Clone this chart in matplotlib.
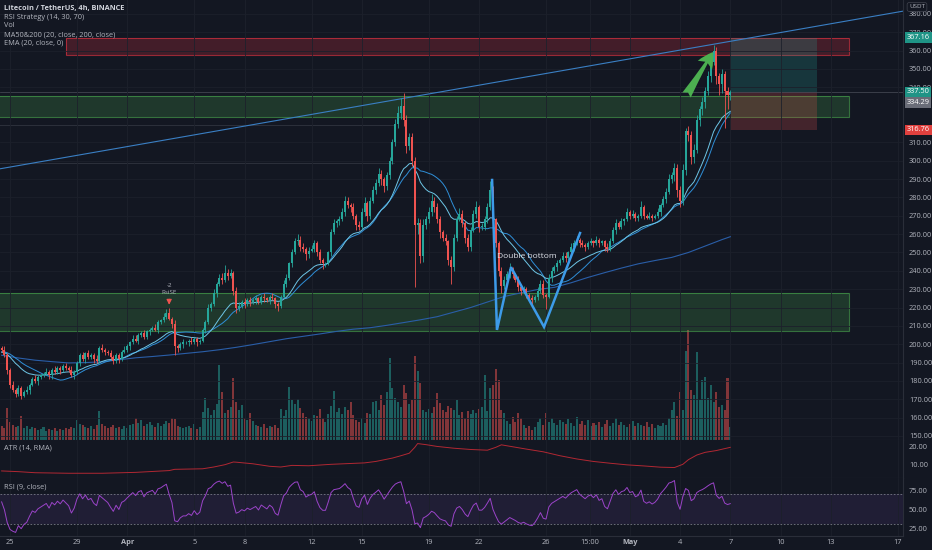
import matplotlib
matplotlib.use("Agg")
import matplotlib.pyplot as plt
import matplotlib.transforms as mtransforms
from matplotlib.patches import Rectangle
import numpy as np
import pandas as pd

plt.rcParams['font.family'] = ['Open Sans', 'DejaVu Sans']

BG = '#131722'
TXT = '#b2b5be'
SEP = '#2a2e39'
UP = '#26a69a'
DN = '#ef5350'

# LTC/USDT 4h candles, day 0 = Mar 25 00:00, first visible candle Mar 24 12:00
first_day = -0.5
warmup = [192, 194, 196, 193, 195, 197, 196, 198, 195, 193,
          194, 196, 195, 197, 199, 198, 196, 194, 196, 198]
closes = [
    197, 194, 186, 178, 175, 173,
    176, 172, 174, 175, 178, 181,
    180, 182, 183, 184, 185, 183,
    186, 185, 187, 186, 188, 187,
    186, 183, 185, 190, 194, 192,
    195, 193, 194, 192, 191, 198,
    197, 196, 195, 193, 191, 194,
    192, 196, 197, 199, 201, 203,
    202, 205, 206, 204, 207, 208,
    209, 208, 212, 213, 215, 217,
    214, 211, 199, 198, 200, 201,
    201, 202, 201, 203, 201, 202,
    208, 212, 220, 222, 228, 233,
    236, 235, 239, 237, 239, 229,
    220, 221, 223, 222, 224, 223,
    224, 225, 223, 226, 225, 224,
    226, 225, 222, 221, 226, 233,
    236, 244, 250, 256, 257, 253,
    252, 249, 251, 252, 255, 250,
    246, 244, 244, 250, 261, 266,
    267, 268, 272, 278, 276, 275,
    270, 265, 264, 272, 277, 270,
    278, 284, 288, 293, 290, 286,
    292, 300, 310, 320, 326, 330,
    322, 308, 313, 300, 265, 266,
    248, 265, 268, 272, 278, 275,
    268, 261, 258, 256, 246, 242,
    258, 268, 271, 266, 258, 253,
    262, 271, 275, 264, 264, 268,
    275, 284, 268, 255, 240, 232,
    235, 238, 241, 238, 235, 231,
    229, 230, 227, 225, 224, 226,
    229, 233, 227, 226, 236, 240,
    242, 244, 246, 248, 247, 250,
    253, 255, 257, 255, 254, 253,
    255, 256, 255, 257, 255, 256,
    253, 252, 256, 262, 266, 264,
    267, 268, 272, 270, 271, 269,
    270, 275, 270, 269, 270, 269,
    270, 272, 276, 279, 283, 290,
    292, 296, 284, 278, 295, 316,
    314, 302, 306, 322, 328, 332,
    338, 346, 354, 360, 346, 342,
    347, 338, 336, 337.5,
]
wick_up = [
    1, 2, 1, 1, 2, 1,  2, 1, 1, 2, 1, 1,  2, 1, 1, 1, 2, 1,  1, 2, 1, 1, 1, 2,
    1, 2, 1, 1, 1, 2,  1, 2, 1, 1, 2, 1,  2, 1, 1, 2, 1, 1,  1, 1, 2, 1, 1, 2,
    2, 1, 1, 2, 1, 1,  1, 2, 1, 1, 2, 2,  3, 1, 2, 1, 1, 2,  1, 1, 2, 1, 1, 1,
    1, 1, 2, 1, 2, 1,  2, 3, 4, 2, 2, 1,  2, 2, 1, 2, 1, 2,  1, 2, 1, 1, 2, 1,
    1, 2, 1, 1, 1, 2,  2, 1, 2, 2, 3, 2,  2, 1, 2, 2, 2, 1,  2, 1, 1, 1, 2, 2,
    1, 2, 2, 3, 2, 1,  2, 1, 2, 2, 3, 1,  2, 2, 2, 3, 2, 1,  2, 2, 2, 3, 4, 4,
    7, 3, 2, 2, 2, 3,  2, 3, 2, 3, 4, 2,  2, 2, 1, 2, 1, 2,  2, 2, 3, 2, 1, 2,
    2, 2, 3, 1, 2, 2,  2, 5, 2, 1, 1, 2,  2, 2, 3, 1, 1, 2,  1, 2, 1, 1, 2, 1,
    2, 2, 2, 1, 2, 2,  1, 2, 1, 2, 2, 1,  2, 2, 2, 1, 2, 1,  1, 2, 1, 2, 1, 1,
    1, 2, 2, 2, 2, 1,  2, 1, 2, 1, 2, 1,  1, 3, 1, 1, 2, 1,  1, 2, 1, 2, 2, 3,
    2, 3, 2, 2, 3, 2,  3, 2, 3, 3, 2, 3,  2, 3, 3, 3, 2, 2,  3, 2, 2, 1,
]
wick_dn = [
    1, 1, 2, 2, 1, 2,  1, 2, 1, 1, 2, 1,  1, 2, 1, 1, 1, 2,  2, 1, 1, 2, 1, 1,
    1, 1, 2, 1, 2, 1,  2, 1, 1, 2, 1, 1,  1, 2, 1, 1, 2, 1,  2, 1, 1, 1, 2, 1,
    1, 2, 1, 1, 1, 2,  1, 1, 2, 1, 1, 1,  1, 2, 5, 2, 1, 2,  1, 2, 1, 1, 2, 1,
    1, 2, 1, 2, 1, 2,  1, 2, 1, 2, 1, 2,  3, 2, 1, 2, 1, 2,  1, 2, 1, 1, 2, 1,
    2, 1, 2, 3, 1, 1,  2, 1, 2, 1, 2, 2,  2, 3, 2, 1, 2, 2,  2, 3, 2, 1, 2, 1,
    2, 2, 1, 2, 2, 3,  2, 3, 2, 1, 2, 3,  2, 1, 2, 2, 3, 3,  2, 2, 2, 2, 2, 3,
    3, 4, 2, 3, 34, 5, 4, 3, 2, 2, 2, 3,  2, 3, 2, 2, 3, 9,  2, 2, 1, 2, 3, 2,
    2, 1, 2, 3, 2, 2,  2, 2, 3, 2, 3, 4,  2, 1, 2, 2, 1, 2,  2, 1, 2, 1, 2, 1,
    2, 1, 2, 7, 1, 2,  1, 2, 1, 1, 2, 1,  1, 2, 1, 2, 1, 2,  1, 1, 2, 1, 2, 1,
    2, 2, 1, 1, 2, 1,  1, 2, 1, 2, 1, 2,  2, 1, 2, 1, 1, 2,  1, 1, 2, 1, 2, 1,
    2, 3, 4, 3, 2, 3,  3, 4, 3, 2, 3, 3,  3, 2, 3, 2, 4, 6,  5, 20, 8, 3,
]
volumes = [
    14, 12, 32, 18, 15, 13,  14, 24, 12, 14, 11, 13,  12, 10, 11, 13, 9, 11,
    10, 12, 9, 11, 10, 12,  11, 13, 12, 20, 16, 15,  13, 12, 14, 11, 15, 29,
    16, 14, 12, 13, 15, 12,  13, 11, 14, 12, 15, 16,  22, 17, 20, 14, 16, 18,
    15, 13, 17, 14, 16, 19,  17, 22, 21, 14, 13, 12,  13, 14, 12, 16, 11, 13,
    28, 42, 32, 25, 30, 36,  75, 48, 27, 30, 33, 62,  38, 30, 35, 22, 20, 27,
    19, 15, 14, 13, 16, 12,  14, 13, 15, 12, 31, 24,  30, 53, 40, 36, 41, 32,
    27, 23, 22, 19, 25, 24,  31, 22, 18, 26, 34, 49,  28, 32, 26, 33, 30, 38,
    25, 20, 18, 22, 17, 27,  26, 38, 39, 30, 45, 35,  48, 82, 52, 42, 38, 33,
    55, 47, 36, 40, 84, 69,  57, 30, 28, 31, 27, 33,  47, 37, 30, 28, 34, 32,
    30, 40, 25, 28, 22, 29,  26, 30, 27, 31, 33, 65,  29, 52, 55, 71, 60, 30,
    27, 19, 16, 23, 18, 27,  22, 15, 12, 14, 10, 13,  18, 22, 15, 27, 18, 22,
    17, 15, 20, 18, 16, 21,  17, 14, 23, 16, 19, 15,  20, 14, 17, 15, 18, 13,
    16, 20, 14, 17, 22, 15,  18, 15, 13, 16, 19, 14,  17, 15, 14, 18, 13, 16,
    12, 15, 14, 17, 15, 22,  30, 38, 24, 48, 30, 89,  110, 50, 45, 88, 40, 60,
    63, 42, 55, 38, 48, 33,  35, 30, 62, 13,
]
ma200_idx = list(range(0, 262, 6)) + [261]
ma200 = [194, 192.5, 191.3, 190.5, 189.8, 190, 190.4, 191.5, 192.6, 193.3,
         194.1, 195, 195.9, 197, 198.3, 199.8, 201.4, 203, 204.3, 205.6,
         207, 208.2, 209, 210.3, 211.8, 213.3, 215, 217.5, 220, 223,
         226, 228, 229.8, 231, 233.5, 236.4, 239, 241.5, 243.8, 245.6,
         247.3, 250, 253.5, 257, 258.6]
atr_idx = [0, 6, 12, 24, 36, 48, 60, 62, 72, 76, 80, 83, 84, 90, 96, 100, 104,
           110, 118, 124, 130, 134, 140, 143, 146, 148, 149, 152, 156, 162, 168,
           174, 177, 179, 182, 188, 194, 200, 206, 212, 218, 224, 230, 236, 241,
           244, 246, 249, 252, 256, 261]
atr = [6.3, 5.9, 5.3, 5.0, 5.0, 5.5, 6.5, 7.2, 7.5, 8.5, 9.8, 11.3, 11.2, 10.3,
       8.9, 8.5, 9.4, 9.2, 10.0, 10.4, 10.8, 11.6, 13.5, 14.8, 16.2, 19.5, 21.6,
       21.0, 20.0, 19.0, 18.3, 17.9, 19.5, 20.9, 20.1, 18.5, 17.0, 14.8, 13.0,
       11.6, 10.6, 9.7, 9.1, 8.4, 8.2, 10.0, 12.6, 15.2, 16.7, 17.7, 19.5]

# drawings
zone_start = [3.34, -1, -1]
zone_end = [50.09, 50.09, 50.09]
zone_low = [357.7, 323.8, 207.4]
zone_high = [366.8, 335.3, 227.8]
zone_kind = ['supply', 'demand', 'demand']
trend_days = [-0.6, 53.3]
trend_prices = [295.6, 381.5]
level_prices = [319.5, 299.0]
level_end = 22.9
w_days = [28.78, 29.07, 29.91, 31.88, 34.03]
w_prices = [289.5, 207.8, 242.0, 209.4, 260.6]
arrow_days = [40.3, 42.05]
arrow_prices = [334.5, 360.5]
pos_end = 48.18
pos_entry, pos_target, pos_stop, last_price = 337.50, 367.16, 316.76, 334.29
signal_idx = 60

price_ticks = [150, 160, 170, 180, 190, 200, 210, 220, 230, 240, 250, 260, 270,
               280, 290, 300, 310, 340, 350, 360, 370, 380]
tick_days = [0, 4, 7, 11, 14, 18, 21, 25, 28, 32, 34.625, 37, 40, 43, 46, 49, 53]
tick_labels = ['25', '29', 'Apr', '5', '8', '12', '15', '19', '22', '26', '15:00',
               'May', '4', '7', '10', '13', '17']

n = len(closes)
t = first_day + np.arange(n) / 6
c = np.array(closes, dtype=float)
o = np.concatenate([[warmup[-1]], c[:-1]])
hi = np.maximum(o, c) + np.array(wick_up[:n])
lo = np.minimum(o, c) - np.array(wick_dn[:n])
col = np.where(c >= o, UP, DN)

allc = pd.Series(warmup + closes, dtype=float)
ma20 = allc.rolling(20).mean().to_numpy()[-n:]
ema20 = allc.ewm(span=20, adjust=False).mean().to_numpy()[-n:]
d = allc.diff()
gain = d.clip(lower=0).ewm(alpha=1 / 9, adjust=False).mean()
loss = (-d.clip(upper=0)).ewm(alpha=1 / 9, adjust=False).mean()
rsi = (100 - 100 / (1 + gain / loss)).to_numpy()[-n:]

W, H = 932, 550
fig = plt.figure(figsize=(W / 100, H / 100), dpi=100, facecolor=BG)


def rect(top, bottom):
    return [0, 1 - bottom / H, 903 / W, (bottom - top) / H]


ax_vol = fig.add_axes(rect(0, 440))
ax = fig.add_axes(rect(0, 440), sharex=ax_vol)
ax_atr = fig.add_axes(rect(440, 478), sharex=ax_vol)
ax_rsi = fig.add_axes(rect(478, 536), sharex=ax_vol)

ax_vol.set_facecolor(BG)
ax_vol.set_ylim(0, 440)
ax_vol.bar(t, volumes[:n], width=0.12, color=col, alpha=0.5, lw=0)
ax_vol.tick_params(length=0, labelbottom=False, labelleft=False)
ax_vol.set_yticks([])
ax_vol.grid(axis='x', color='#1c202b', lw=0.6)

for a in (ax_vol, ax, ax_atr, ax_rsi):
    for s in a.spines.values():
        s.set_visible(False)
for a in (ax, ax_atr, ax_rsi):
    a.set_facecolor(BG)
    a.spines['right'].set_visible(True)
    a.spines['right'].set_color(SEP)
    a.spines['bottom'].set_visible(True)
    a.spines['bottom'].set_color(SEP)
    a.yaxis.tick_right()
    a.tick_params(axis='y', colors=TXT, labelsize=5.3, length=0, pad=4.3)
    a.tick_params(axis='x', length=0, labelbottom=False)
ax.patch.set_visible(False)

# main pane
ax.set_ylim(147.8, 387.6)
ax.set_yticks(price_ticks)
ax.yaxis.set_major_formatter(lambda v, p: f'{v:.2f}')
ax.grid(axis='y', color='#1c202b', lw=0.6)

for x0, x1, lo_, hi_, kind in zip(zone_start, zone_end, zone_low, zone_high, zone_kind):
    fc = '#f23645' if kind == 'supply' else '#4caf50'
    ax.add_patch(Rectangle((x0, lo_), x1 - x0, hi_ - lo_, facecolor=fc, alpha=0.22,
                           edgecolor='none', zorder=1))
    ax.add_patch(Rectangle((x0, lo_), x1 - x0, hi_ - lo_, facecolor='none',
                           edgecolor=fc, alpha=0.6, lw=0.8, zorder=1))

ax.add_patch(Rectangle((t[-1], pos_entry), pos_end - t[-1], pos_target - pos_entry,
                       facecolor=UP, alpha=0.22, lw=0, zorder=1))
ax.add_patch(Rectangle((t[-1], pos_stop), pos_end - t[-1], pos_entry - pos_stop,
                       facecolor=DN, alpha=0.22, lw=0, zorder=1))

for lv in level_prices:
    ax.plot([-1, level_end], [lv, lv], color='#363a45', lw=0.5, zorder=1)
ax.axhline(pos_entry, color='#4a4e5a', lw=0.5, zorder=1)

ax.plot(trend_days, trend_prices, color='#3a7fc4', lw=0.8, zorder=2)
ax.plot(t[ma200_idx], ma200, color='#2a5ea8', lw=0.8, zorder=2)
ax.plot(t, ma20, color='#2f8fd8', lw=0.7, zorder=2)
ax.plot(t, ema20, color='#6ec6e6', lw=0.7, zorder=2)

ax.vlines(t, lo, hi, colors=col, lw=0.6, zorder=3)
ax.bar(t, np.maximum(np.abs(c - o), 0.4), bottom=np.minimum(o, c), width=0.12,
       color=col, lw=0, zorder=4)

ax.plot(w_days, w_prices, color='#3d9be9', lw=1.8, zorder=5, solid_joinstyle='miter')
ax.annotate('Double bottom', (w_days[1], w_prices[2]), xytext=(0, 8),
            textcoords='offset points', color='#e0e3eb', fontsize=6, va='center',
            ha='left', zorder=6)

ax.annotate('', xy=(arrow_days[1], arrow_prices[1]), xytext=(arrow_days[0], arrow_prices[0]),
            arrowprops=dict(arrowstyle='fancy,head_length=1.1,head_width=1.2,tail_width=0.7',
                            color='#4caf50', lw=0), zorder=6)

sx, sy = t[signal_idx], hi[signal_idx]
ax.annotate('', xy=(sx, sy), xytext=(0, 8), textcoords='offset points',
            xycoords='data', arrowprops=dict(arrowstyle='-|>,head_length=0.3,head_width=0.15',
                                             color=DN, lw=0.8), zorder=6)
ax.annotate('RsiSE', (sx, sy), xytext=(0, 10.5), textcoords='offset points',
            color=TXT, fontsize=4.5, ha='center', va='center', zorder=6)
ax.annotate('-2', (sx, sy), xytext=(0, 15.5), textcoords='offset points',
            color=TXT, fontsize=4.5, ha='center', va='center', zorder=6)

blend = mtransforms.blended_transform_factory(ax.transAxes, ax.transData)
for val, fc, dy in [(pos_target, '#1f9486', 0), (pos_entry, '#1f9486', 0),
                    (last_price, '#6a6d78', -2.5), (pos_stop, '#e0403e', 0)]:
    ax.text(1.004, val + dy, f'{val:.2f}', transform=blend, color='white', fontsize=5.3,
            va='center', ha='left', clip_on=False, zorder=10,
            bbox=dict(boxstyle='square,pad=0.25', fc=fc, ec='none'))

# ATR pane
ax_atr.set_ylim(2.35, 23.6)
ax_atr.set_yticks([10, 20])
ax_atr.yaxis.set_major_formatter(lambda v, p: f'{v:.2f}')
ax_atr.plot(t[atr_idx], atr, color='#b22833', lw=0.7)

# RSI pane
ax_rsi.set_ylim(14.5, 90.8)
ax_rsi.set_yticks([25, 50, 75])
ax_rsi.yaxis.set_major_formatter(lambda v, p: f'{v:.2f}')
ax_rsi.axhspan(30, 70, color='#7e57c2', alpha=0.12, lw=0)
ax_rsi.axhline(70, color='#787b86', lw=0.6, ls=(0, (2, 2)))
ax_rsi.axhline(30, color='#787b86', lw=0.6, ls=(0, (2, 2)))
ax_rsi.plot(t, rsi, color='#9b44c9', lw=0.7)

ax_rsi.set_xlim(-0.597, 53.31)
ax_rsi.set_xticks(tick_days)
ax_rsi.set_xticklabels(tick_labels)
ax_rsi.tick_params(axis='x', labelbottom=True, colors=TXT, labelsize=5.3, pad=2)
for lab in ax_rsi.get_xticklabels():
    if lab.get_text() in ('Apr', 'May'):
        lab.set_fontweight('bold')
for a in (ax, ax_atr):
    a.tick_params(axis='x', labelbottom=False)
    a.grid(axis='x', color='#1c202b', lw=0.6)
ax_rsi.grid(axis='x', color='#1c202b', lw=0.6)


def px(x, y):
    return x / W, 1 - y / H


legend = ['Litecoin / TetherUS, 4h, BINANCE', 'RSI Strategy (14, 30, 70)', 'Vol',
          'MA50&200 (20, close, 200, close)', 'EMA (20, close, 0)']
for k, s in enumerate(legend):
    fig.text(*px(4, 8.3 + 8.8 * k), s, color='#d1d4dc' if k == 0 else TXT, fontsize=5.3,
             fontweight='bold' if k == 0 else 'normal', va='center', ha='left')
fig.text(*px(4, 448), 'ATR (14, RMA)', color=TXT, fontsize=5.3, va='center')
fig.text(*px(4, 487), 'RSI (9, close)', color=TXT, fontsize=5.3, va='center')
fig.text(*px(917, 7), 'USDT', color=TXT, fontsize=4.5, va='center', ha='center',
         bbox=dict(boxstyle='round,pad=0.3', fc=BG, ec='#434651', lw=0.5))

fig.savefig('out.png', dpi=100, facecolor=BG)
